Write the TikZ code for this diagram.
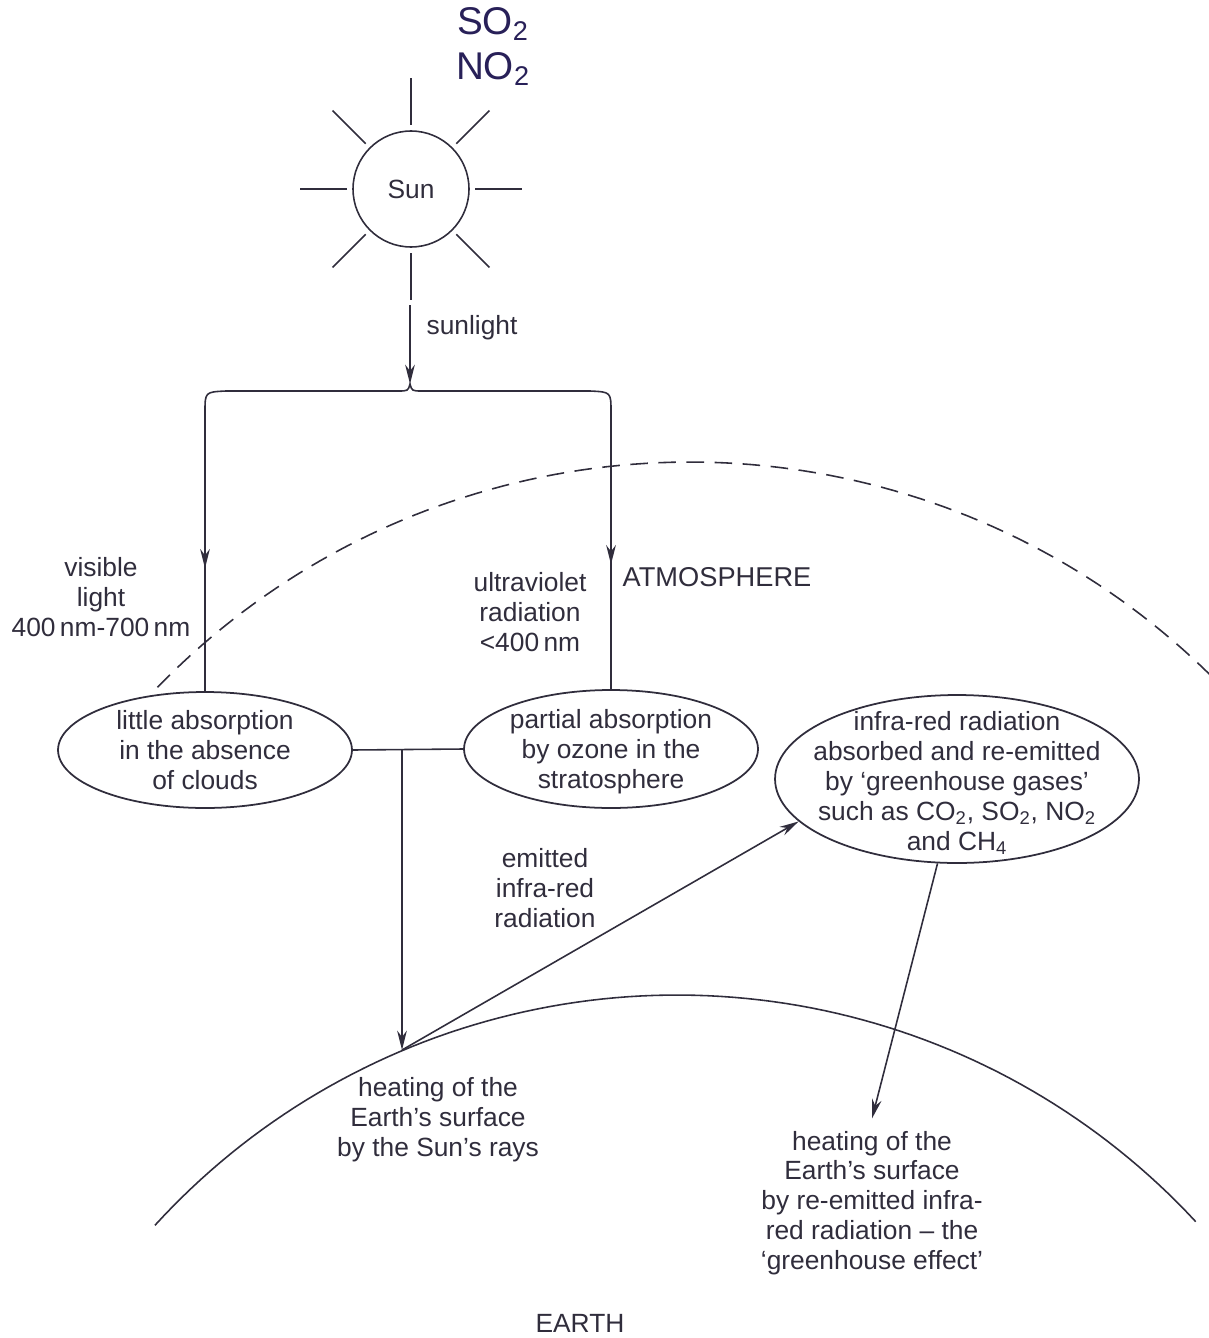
\documentclass[tikz,border=0pt]{standalone}
\usepackage{fontspec}
\setmainfont{Liberation Sans}
\usetikzlibrary{arrows.meta}
\usetikzlibrary{shapes.geometric}
\usetikzlibrary{decorations.markings}

\definecolor{ink}{RGB}{48,45,60}
\definecolor{pen}{RGB}{40,32,88}

\tikzset{
  blob/.style={ellipse, draw, line width=1pt, inner sep=0pt},
  lbl/.style={align=center, inner sep=1pt},
  midarrow/.style={decoration={markings, mark=at position #1 with {\arrow{>}}}, postaction={decorate}},
}

\begin{document}
\begin{tikzpicture}[x=0.02cm, y=-0.02cm, color=ink, line width=0.9pt,
  >={Stealth[length=11pt,width=5.5pt]}, font=\fontsize{15}{17}\selectfont]
\useasboundingbox (0,0) rectangle (1209,1338);

% sun and its rays
\node[circle, draw, minimum size=2.32cm, inner sep=0pt] (sun) at (411,189) {Sun};
\foreach \a in {0,45,...,315} {
 \draw (sun.center) ++(\a:64) -- ++(\a:47);
}
\node[pen, font=\fontsize{22}{22}\selectfont, inner sep=0pt] (so) at (493,24) {SO\textsubscript{2}};
\node[pen, font=\fontsize{22}{22}\selectfont, inner sep=0pt] (no) at (493,69) {NO\textsubscript{2}};

% sunlight splits at the brace
\coordinate (slstart) at (410,305);
\coordinate (tip) at (410,384);
\coordinate (bl) at (205,412);
\coordinate (br) at (611,412);
\draw[->] (slstart) -- (tip);
\node[anchor=west] (sunlbl) at (420,328) {sunlight};
\draw (bl) .. controls (205,392) .. (226,391) -- (398,391) .. controls (408,391) .. (tip)
  .. controls (412,391) .. (422,391) -- (590,391) .. controls (611,392) .. (br);

% atmosphere and earth
\draw[dash pattern=on 10pt off 6pt] plot[domain=45.5:136.2, samples=90] ({690+742*cos(\x)},{1204-742*sin(\x)});
\draw plot[domain=42.8:137.6, samples=90] ({677+707*cos(\x)},{1702-707*sin(\x)});

% the three ellipses
\node[blob, minimum width=5.88cm, minimum height=2.32cm] (little) at (205,750) {};
\node[lbl] (littletxt) at (little) {little absorption\\in the absence\\of clouds};
\node[blob, minimum width=5.88cm, minimum height=2.36cm] (partial) at (611,749) {};
\node[lbl] (partialtxt) at ([yshift=-0.06cm]partial) {partial absorption\\by ozone in the\\stratosphere};
\node[blob, minimum width=7.28cm, minimum height=3.36cm] (ghg) at (957,779) {};
\node[lbl] (ghgtxt) at ([yshift=-0.08cm]ghg) {infra-red radiation\\absorbed and re-emitted\\by `greenhouse gases'\\such as CO\textsubscript{2}, SO\textsubscript{2}, NO\textsubscript{2}\\and CH\textsubscript{4}};

\draw[midarrow=0.56, line width=1.1pt] (bl) -- (little.north);
\draw[midarrow=0.55, line width=1.1pt] (br) -- (partial.north);

\coordinate (join) at (402,750);
\coordinate (surf) at (402,1050);
\draw (little.east) -- (partial.west);
\draw[->, line width=1.1pt] (join) -- (surf);
\draw[->] (surf) -- (ghg.195);

% labels
\node[lbl] (vis) at (101,597) {visible\\light\\400\,nm-700\,nm};
\node[lbl] (uv) at (530,612) {ultraviolet\\radiation\\<400\,nm};
\node[font=\fontsize{15.5}{18}\selectfont] (atmo) at (717,577) {ATMOSPHERE};
\node[lbl] (emit) at (545,888) {emitted\\infra-red\\radiation};
\node[lbl] (sunheat) at (438,1120) {heating of the\\Earth's surface\\by the Sun's rays};
\node[lbl] (gheat) at (872,1203) {heating of the\\Earth's surface\\by re-emitted infra-\\red radiation -- the\\`greenhouse effect'};
\draw[->] (ghg.257) -- ([yshift=0.2cm]gheat.north);
\node (earth) at (580,1323) {EARTH};
\end{tikzpicture}
\end{document}
